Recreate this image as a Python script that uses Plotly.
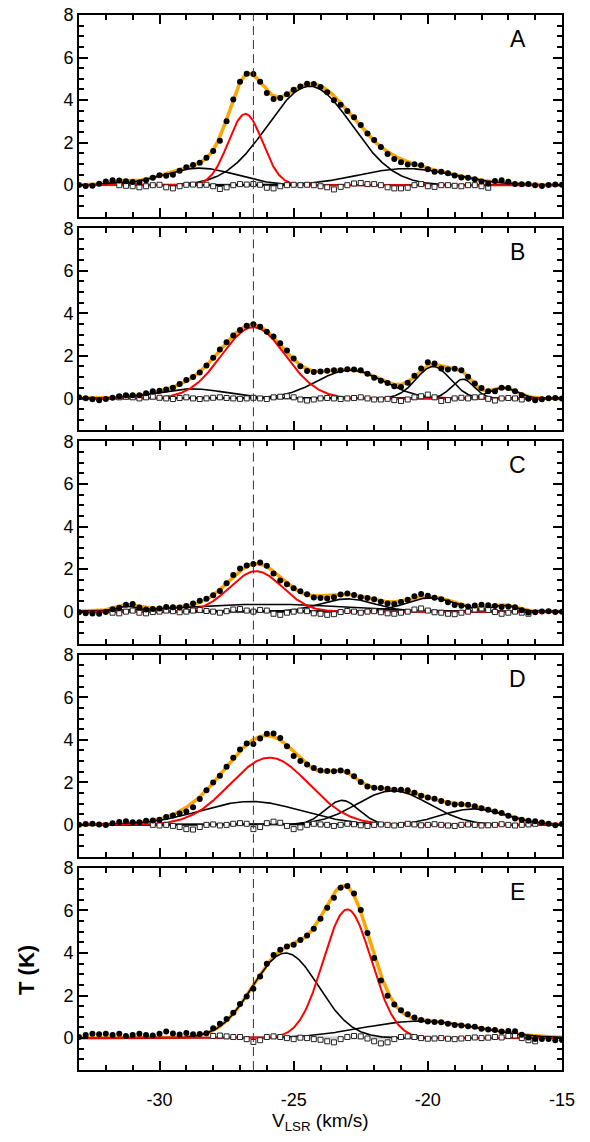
import numpy as np
import plotly.graph_objects as go
from plotly.subplots import make_subplots

# Velocity grid of the spectra (km/s)
VEL_MIN, VEL_MAX, CHAN = -33.0, -15.0, 0.25
REF_VEL = -26.5

panel_labels = ["A", "B", "C", "D", "E"]
x_tick_vals = [-30, -25, -20, -15]
x_tick_text = ["-30", "-25", "-20", "-15"]

# Gaussian components per panel: (peak T in K, centre velocity, FWHM) ; red marks the main component
red_A = [(3.35, -26.8, 1.5)]
black_A = [(4.65, -24.4, 3.7), (0.80, -28.5, 3.2), (0.78, -20.8, 4.2), (0.15, -31.6, 1.0)]

red_B = [(3.35, -26.5, 2.8)]
black_B = [(0.45, -28.8, 3.0), (1.33, -22.9, 2.9), (1.50, -19.8, 1.5), (0.90, -18.7, 1.0), (0.50, -17.2, 1.2)]

red_C = [(1.90, -26.4, 2.3)]
black_C = [(0.35, -26.0, 7.0), (0.60, -23.0, 2.4), (0.65, -19.9, 2.2), (0.30, -17.2, 1.2), (0.25, -31.2, 1.0)]

red_D = [(3.16, -25.9, 3.46)]
black_D = [(1.10, -26.6, 4.4), (1.15, -23.2, 1.5), (1.60, -21.3, 3.2), (0.75, -18.3, 2.8)]

red_E = [(6.05, -23.0, 2.1)]
black_E = [(4.00, -25.3, 2.9), (0.80, -20.3, 5.0)]

# Residuals (data - fit) on the channel grid, one value per channel from -33 to -15 km/s
resid_A = [0.00, -0.05, -0.05, 0.00, 0.05, 0.05, 0.00, -0.03, -0.05, -0.10, -0.05, 0.00, 0.02,
           -0.10, -0.15, -0.05, 0.02, 0.03, 0.00, 0.02, -0.05, -0.18, -0.10, 0.00, 0.05, 0.03,
           0.05, 0.02, -0.12, -0.15, -0.05, 0.00, 0.02, 0.00, 0.02, 0.00, -0.05, -0.10, -0.20,
           -0.08, 0.00, 0.08, 0.10, 0.05, 0.05, 0.00, -0.10, -0.15, -0.15, -0.12, 0.00, 0.05,
           -0.05, -0.08, 0.00, 0.00, -0.03, -0.05, 0.00, 0.00, -0.05, -0.12, 0.05, 0.12, 0.08,
           0.00, 0.00, 0.02, -0.02, -0.05, 0.00, 0.02, 0.02]
resid_B = [0.05, 0.00, -0.05, -0.10, -0.05, 0.00, 0.05, 0.08, 0.05, 0.00, 0.05, 0.08, 0.03,
           0.00, -0.03, 0.02, 0.05, 0.00, -0.03, 0.00, 0.03, 0.05, 0.02, 0.00, -0.02, 0.00,
           0.03, 0.00, -0.03, 0.05, 0.08, 0.10, 0.05, -0.05, -0.10, -0.05, 0.00, 0.02, 0.00,
           -0.03, 0.00, 0.02, 0.05, 0.00, -0.05, -0.05, -0.02, -0.08, -0.12, -0.05, 0.05, 0.10,
           0.18, 0.05, -0.12, -0.08, 0.00, 0.03, 0.00, 0.05, 0.08, -0.02, -0.10, 0.00, 0.02,
           0.00, -0.05, -0.10, -0.12, -0.05, 0.00, 0.02, 0.00]
resid_C = [-0.05, -0.10, -0.12, -0.15, -0.10, -0.05, -0.08, 0.00, 0.05, -0.05, -0.08, -0.02, 0.00,
           0.05, 0.02, -0.03, 0.00, 0.05, 0.08, 0.03, 0.00, -0.05, 0.02, 0.10, 0.12, 0.05,
           0.00, 0.08, 0.05, -0.10, -0.15, -0.05, 0.00, 0.05, 0.02, -0.08, -0.10, -0.15, -0.12,
           -0.02, 0.03, 0.00, -0.05, 0.00, 0.02, -0.03, -0.08, -0.10, -0.05, 0.00, 0.10, 0.15,
           0.05, -0.03, -0.05, -0.10, -0.12, -0.05, 0.00, 0.10, 0.15, 0.08, -0.02, -0.10, -0.05,
           0.00, -0.05, -0.10, -0.05, 0.00, 0.02, -0.02, 0.00]
resid_D = [0.00, 0.03, 0.05, 0.00, -0.02, 0.05, 0.10, 0.12, 0.05, 0.02, 0.05, 0.00, -0.03,
           0.00, -0.05, -0.10, -0.20, -0.22, -0.10, 0.00, 0.02, -0.03, 0.00, 0.05, 0.08, 0.05,
           -0.20, -0.10, 0.08, 0.15, 0.10, -0.05, -0.20, -0.12, 0.00, 0.05, 0.02, 0.00, -0.05,
           0.00, 0.05, 0.03, -0.02, -0.05, 0.00, 0.02, 0.00, -0.03, 0.00, 0.05, 0.02, -0.02,
           0.00, 0.03, 0.00, -0.03, -0.05, 0.00, 0.02, 0.00, -0.03, -0.02, 0.00, 0.03, 0.00,
           -0.03, 0.00, 0.02, 0.05, 0.03, 0.00, -0.05, 0.02]
resid_E = [0.05, 0.15, 0.20, 0.18, 0.20, 0.15, 0.20, 0.10, 0.15, 0.20, 0.15, 0.12, 0.20,
           0.30, 0.20, 0.15, 0.20, 0.10, 0.05, 0.00, 0.10, 0.12, 0.08, 0.05, 0.05, -0.05,
           -0.18, -0.10, 0.05, 0.08, 0.05, 0.00, -0.05, 0.02, 0.00, -0.05, -0.08, -0.15, -0.20,
           -0.05, 0.05, 0.10, 0.08, -0.02, -0.15, -0.25, -0.20, -0.05, 0.05, 0.08, 0.05, 0.00,
           -0.03, -0.02, 0.00, -0.03, -0.05, -0.02, 0.00, 0.03, 0.00, 0.02, 0.05, 0.03, 0.10,
           0.12, 0.00, -0.10, -0.15, -0.12, -0.10, -0.15, -0.12]

# Velocity interval over which each fit was made (residuals shown there)
window_A = (-31.5, -17.75)
window_B = (-31.5, -16.5)
window_C = (-31.75, -16.25)
window_D = (-30.25, -16.0)
window_E = (-28.0, -16.0)

panels = [
    (red_A, black_A, resid_A, window_A),
    (red_B, black_B, resid_B, window_B),
    (red_C, black_C, resid_C, window_C),
    (red_D, black_D, resid_D, window_D),
    (red_E, black_E, resid_E, window_E),
]

FWHM_TO_SIGMA = 1.0 / (2.0 * np.sqrt(2.0 * np.log(2.0)))


def gauss(v, amp, cen, fwhm):
    sig = fwhm * FWHM_TO_SIGMA
    return amp * np.exp(-0.5 * ((v - cen) / sig) ** 2)


chan = VEL_MIN + CHAN * np.arange(len(resid_A))
fine = np.linspace(VEL_MIN, VEL_MAX, 721)

W, H = 590, 1142
ML, MR, MT, MB = 79, 28, 5, 72
plot_h = H - MT - MB
gap = 11.25


def paper_y(px):
    """Paper y-coordinate of a pixel row."""
    return (H - MB - px) / plot_h


fig = make_subplots(rows=5, cols=1, vertical_spacing=gap / plot_h)

for row, (reds, blacks, resid, win) in enumerate(panels, start=1):
    comps = reds + blacks
    fit_fine = sum(gauss(fine, *c) for c in comps)
    fit_chan = sum(gauss(chan, *c) for c in comps)
    resid = np.asarray(resid)
    obs = fit_chan + resid
    inwin = (chan >= win[0] - 1e-9) & (chan <= win[1] + 1e-9)

    # zero reference band under the residuals
    fig.add_trace(go.Scatter(x=[win[0], win[1]], y=[0, 0], mode="lines",
                             line=dict(color="#cfcfcf", width=3), showlegend=False,
                             hoverinfo="skip"), row=row, col=1)
    # total fit
    fig.add_trace(go.Scatter(x=fine, y=fit_fine, mode="lines",
                             line=dict(color="#FFA500", width=3.5), showlegend=False),
                  row=row, col=1)
    # individual components
    for c in blacks:
        fig.add_trace(go.Scatter(x=fine, y=gauss(fine, *c), mode="lines",
                                 line=dict(color="black", width=1.6), showlegend=False),
                      row=row, col=1)
    for c in reds:
        fig.add_trace(go.Scatter(x=fine, y=gauss(fine, *c), mode="lines",
                                 line=dict(color="#FF0000", width=2), showlegend=False),
                      row=row, col=1)
    # residuals
    fig.add_trace(go.Scatter(x=chan[inwin], y=resid[inwin], mode="markers",
                             marker=dict(symbol="square", size=5, color="white",
                                         line=dict(color="#222222", width=1)),
                             showlegend=False), row=row, col=1)
    # observed spectrum
    fig.add_trace(go.Scatter(x=chan, y=obs, mode="markers",
                             marker=dict(symbol="circle", size=6, color="black"),
                             showlegend=False), row=row, col=1)

    xref = "x" if row == 1 else f"x{row}"
    yref = "y" if row == 1 else f"y{row}"
    fig.add_shape(type="line", x0=REF_VEL, x1=REF_VEL, y0=0, y1=1,
                  xref=xref, yref=f"{yref} domain",
                  line=dict(color="#333333", width=1, dash="9px,5px"))
    fig.add_annotation(x=-16.64, y=0.882, xref=xref, yref=f"{yref} domain",
                       text=panel_labels[row - 1], showarrow=False,
                       font=dict(size=23, color="black", family="Liberation Sans"),
                       xanchor="center", yanchor="middle")

axis_common = dict(showline=True, linecolor="black", linewidth=2, mirror="allticks",
                   ticks="inside", tickcolor="black", tickwidth=1.5, showgrid=False,
                   zeroline=False)

for row in range(1, 6):
    fig.update_xaxes(range=[VEL_MIN, VEL_MAX], tickmode="array", tickvals=x_tick_vals,
                     ticktext=x_tick_text, ticklen=9, ticklabelstandoff=12,
                     minor=dict(dtick=1, tick0=-30, ticklen=5, ticks="inside",
                                tickcolor="black", tickwidth=1.5),
                     showticklabels=(row == 5), row=row, col=1, **axis_common)
    fig.update_yaxes(range=[-1.5, 8.0], tick0=0, dtick=2, ticklen=9,
                     minor=dict(dtick=0.5, ticklen=5, ticks="inside", tickcolor="black",
                                tickwidth=1.5),
                     row=row, col=1, **axis_common)

fig.add_annotation(x=0.5, y=paper_y(1122), xref="paper", yref="paper",
                   text="V<sub>LSR</sub> (km/s)", showarrow=False,
                   font=dict(size=19, color="black", family="Liberation Sans"),
                   xanchor="center", yanchor="middle")
fig.add_annotation(x=(27 - ML) / (W - ML - MR), y=paper_y(969), xref="paper",
                   yref="paper", text="<b>T (K)</b>", textangle=-90, showarrow=False,
                   font=dict(size=22, color="black", family="Liberation Sans"),
                   xanchor="center", yanchor="middle")

fig.update_layout(width=W, height=H, margin=dict(l=ML, r=MR, t=MT, b=MB),
                  paper_bgcolor="white", plot_bgcolor="white",
                  font=dict(family="Liberation Sans", size=18, color="black"))

fig.write_html("out.html")
